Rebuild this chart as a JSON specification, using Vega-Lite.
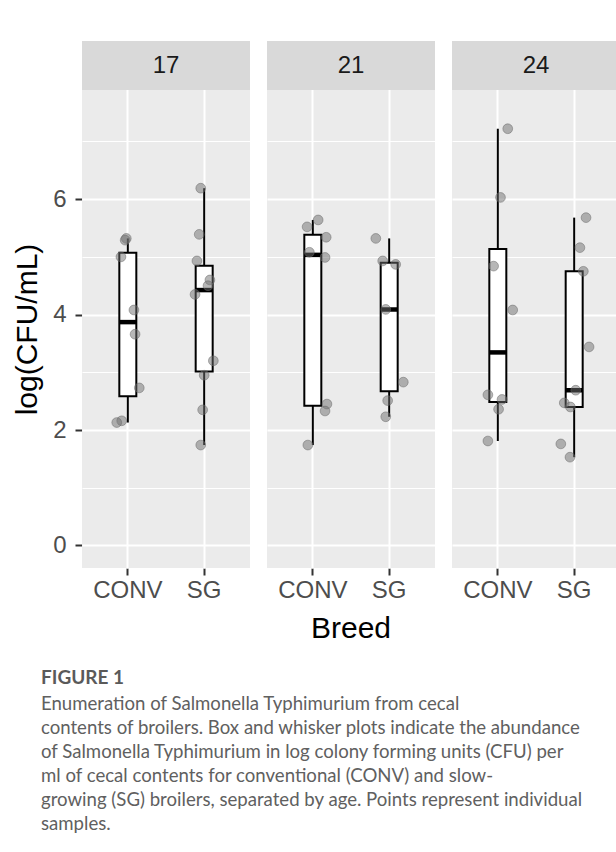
{
  "$schema": "https://vega.github.io/schema/vega-lite/v6.json",
  "padding": {"left": 12, "top": 41, "right": 0, "bottom": 5},
  "background": "white",
  "data": {"values": [
    {"age": "17", "breed": "CONV", "cfu": 5.32, "jit": -0.04},
    {"age": "17", "breed": "CONV", "cfu": 5.29, "jit": -0.07},
    {"age": "17", "breed": "CONV", "cfu": 5.0, "jit": -0.18},
    {"age": "17", "breed": "CONV", "cfu": 4.08, "jit": 0.16},
    {"age": "17", "breed": "CONV", "cfu": 3.66, "jit": 0.19},
    {"age": "17", "breed": "CONV", "cfu": 2.73, "jit": 0.30},
    {"age": "17", "breed": "CONV", "cfu": 2.16, "jit": -0.16},
    {"age": "17", "breed": "CONV", "cfu": 2.13, "jit": -0.29},
    {"age": "17", "breed": "SG", "cfu": 6.19, "jit": -0.09},
    {"age": "17", "breed": "SG", "cfu": 5.39, "jit": -0.13},
    {"age": "17", "breed": "SG", "cfu": 4.93, "jit": -0.19},
    {"age": "17", "breed": "SG", "cfu": 4.60, "jit": 0.15},
    {"age": "17", "breed": "SG", "cfu": 4.50, "jit": 0.10},
    {"age": "17", "breed": "SG", "cfu": 4.35, "jit": -0.24},
    {"age": "17", "breed": "SG", "cfu": 3.20, "jit": 0.24},
    {"age": "17", "breed": "SG", "cfu": 2.95, "jit": 0.0},
    {"age": "17", "breed": "SG", "cfu": 2.35, "jit": -0.04},
    {"age": "17", "breed": "SG", "cfu": 1.74, "jit": -0.09},
    {"age": "21", "breed": "CONV", "cfu": 5.64, "jit": 0.14},
    {"age": "21", "breed": "CONV", "cfu": 5.52, "jit": -0.15},
    {"age": "21", "breed": "CONV", "cfu": 5.34, "jit": 0.35},
    {"age": "21", "breed": "CONV", "cfu": 5.08, "jit": -0.09},
    {"age": "21", "breed": "CONV", "cfu": 4.99, "jit": 0.32},
    {"age": "21", "breed": "CONV", "cfu": 2.45, "jit": 0.37},
    {"age": "21", "breed": "CONV", "cfu": 2.33, "jit": 0.32},
    {"age": "21", "breed": "CONV", "cfu": 1.74, "jit": -0.13},
    {"age": "21", "breed": "SG", "cfu": 5.32, "jit": -0.35},
    {"age": "21", "breed": "SG", "cfu": 4.93, "jit": -0.17},
    {"age": "21", "breed": "SG", "cfu": 4.87, "jit": 0.17},
    {"age": "21", "breed": "SG", "cfu": 4.09, "jit": -0.09},
    {"age": "21", "breed": "SG", "cfu": 2.83, "jit": 0.37},
    {"age": "21", "breed": "SG", "cfu": 2.51, "jit": -0.04},
    {"age": "21", "breed": "SG", "cfu": 2.23, "jit": -0.09},
    {"age": "24", "breed": "CONV", "cfu": 7.22, "jit": 0.26},
    {"age": "24", "breed": "CONV", "cfu": 6.03, "jit": 0.07},
    {"age": "24", "breed": "CONV", "cfu": 4.84, "jit": -0.11},
    {"age": "24", "breed": "CONV", "cfu": 4.08, "jit": 0.39},
    {"age": "24", "breed": "CONV", "cfu": 2.61, "jit": -0.26},
    {"age": "24", "breed": "CONV", "cfu": 2.53, "jit": 0.11},
    {"age": "24", "breed": "CONV", "cfu": 2.36, "jit": 0.02},
    {"age": "24", "breed": "CONV", "cfu": 1.81, "jit": -0.26},
    {"age": "24", "breed": "SG", "cfu": 5.68, "jit": 0.31},
    {"age": "24", "breed": "SG", "cfu": 5.16, "jit": 0.15},
    {"age": "24", "breed": "SG", "cfu": 4.75, "jit": 0.24},
    {"age": "24", "breed": "SG", "cfu": 3.44, "jit": 0.39},
    {"age": "24", "breed": "SG", "cfu": 2.69, "jit": 0.04},
    {"age": "24", "breed": "SG", "cfu": 2.47, "jit": -0.26},
    {"age": "24", "breed": "SG", "cfu": 2.40, "jit": -0.10},
    {"age": "24", "breed": "SG", "cfu": 1.76, "jit": -0.35},
    {"age": "24", "breed": "SG", "cfu": 1.53, "jit": -0.11}
  ]},
  "title": {
    "text": "FIGURE 1",
    "subtitle": [
      "Enumeration of Salmonella Typhimurium from cecal",
      "contents of broilers. Box and whisker plots indicate the abundance",
      "of Salmonella Typhimurium in log colony forming units (CFU) per",
      "ml of cecal contents for conventional (CONV) and slow-",
      "growing (SG) broilers, separated by age. Points represent individual",
      "samples."
    ],
    "orient": "bottom",
    "anchor": "start",
    "frame": "group",
    "offset": 25,
    "dx": -41,
    "font": "Lato",
    "fontSize": 19,
    "fontWeight": "bold",
    "color": "#5a5a5a",
    "subtitleFont": "Lato",
    "subtitleFontSize": 18.6,
    "subtitleColor": "#606060",
    "subtitleLineHeight": 24,
    "subtitlePadding": 7
  },
  "facet": {
    "column": {
      "field": "age", "type": "ordinal", "title": "Breed",
      "header": {
        "labels": false, "labelPadding": 0,
        "titleOrient": "bottom", "titleFont": "Liberation Sans", "titleFontSize": 30,
        "titleFontWeight": "normal", "titleColor": "black", "titlePadding": 2
      }
    }
  },
  "spacing": 17,
  "spec": {
    "width": 168,
    "height": 527,
    "layer": [
      {
        "mark": {
          "type": "boxplot",
          "extent": "min-max",
          "size": 17,
          "box": {"fill": "white", "stroke": "black", "strokeWidth": 2},
          "median": {"color": "black", "thickness": 4.5, "opacity": 1},
          "rule": {"color": "black", "strokeWidth": 2}
        },
        "encoding": {
          "x": {
            "field": "breed", "type": "nominal",
            "scale": {"type": "band", "paddingInner": 0, "paddingOuter": 0.1},
            "axis": {"title": null, "labelAngle": 0, "grid": true, "bandPosition": 0.5}
          },
          "y": {
            "field": "cfu", "type": "quantitative",
            "scale": {"domain": [-0.39, 8.74], "nice": false, "zero": false},
            "axis": {
              "title": "log(CFU/mL)",
              "titleY": 288,
              "grid": true,
              "values": [0, 1, 2, 3, 4, 5, 6, 7],
              "format": "d",
              "labelExpr": "datum.value % 2 === 0 ? datum.label : ''",
              "tickOpacity": {"condition": {"test": "datum.value % 2 === 0", "value": 1}, "value": 0},
              "gridWidth": {"condition": {"test": "datum.value % 2 === 0", "value": 2}, "value": 1},
              "labelPadding": 9
            }
          }
        }
      },
      {
        "mark": {"type": "circle", "size": 95, "fill": "#707070", "fillOpacity": 0.5, "stroke": "#6a6a6a", "strokeOpacity": 0.5, "strokeWidth": 1},
        "encoding": {
          "x": {"field": "breed", "type": "nominal"},
          "xOffset": {"field": "jit", "type": "quantitative", "scale": {"domain": [-1, 1]}},
          "y": {"field": "cfu", "type": "quantitative"}
        }
      },
      {
        "transform": [{"aggregate": [{"op": "count", "as": "n"}], "groupby": ["age"]}],
        "mark": {"type": "rect", "color": "#D9D9D9"},
        "encoding": {
          "x": {"value": 0},
          "x2": {"value": "width"},
          "y": {"datum": 7.89, "type": "quantitative"},
          "y2": {"datum": 8.74}
        }
      },
      {
        "transform": [{"aggregate": [{"op": "count", "as": "n"}], "groupby": ["age"]}],
        "mark": {"type": "text", "fontSize": 24, "color": "#1A1A1A", "font": "Liberation Sans", "baseline": "middle", "align": "center"},
        "encoding": {
          "x": {"datum": "CONV", "type": "nominal", "bandPosition": 1},
          "y": {"datum": 8.315, "type": "quantitative"},
          "text": {"field": "age"}
        }
      }
    ]
  },
  "config": {
    "font": "Liberation Sans",
    "view": {"fill": "#EBEBEB", "stroke": null},
    "axis": {
      "domain": false,
      "gridColor": "white",
      "gridOpacity": 1,
      "labelFontSize": 24,
      "labelColor": "#4D4D4D",
      "labelFont": "Liberation Sans",
      "tickColor": "#333333",
      "tickSize": 7,
      "tickWidth": 2,
      "titleFontSize": 30,
      "titleFontWeight": "normal",
      "titleColor": "black",
      "titleFont": "Liberation Sans"
    },
    "axisX": {"labelPadding": 3, "gridWidth": 2},
    "axisY": {"titlePadding": 10}
  }
}
